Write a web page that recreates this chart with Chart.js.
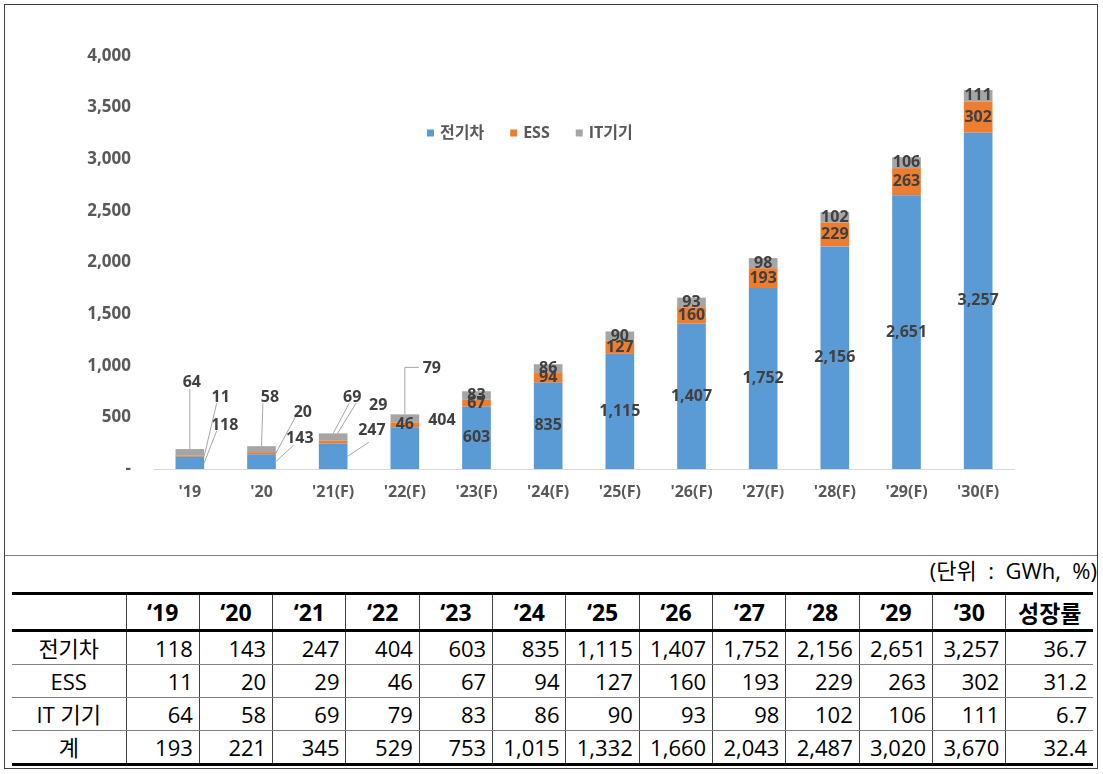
<!DOCTYPE html>
<html>
<head>
<meta charset="utf-8">
<script src="https://cdn.jsdelivr.net/npm/chart.js@4.4.1/dist/chart.umd.min.js"></script>
<style>
  html, body { margin: 0; padding: 0; background: #fff; }
  body { width: 1103px; height: 774px; position: relative; overflow: hidden;
         font-family: 'Open Sans', 'Noto Sans CJK KR', sans-serif; color: #000; }
  #frame { position: absolute; left: 4px; top: 4px; width: 1092px; height: 763px; border: 1px solid #404040; }
  #sep { position: absolute; left: 5px; top: 555px; width: 1092px; border-top: 1px solid #808080; }
  #chartBox { position: absolute; left: 5px; top: 5px; width: 1092px; height: 549px; }
  #unit { position: absolute; right: 6px; top: 554px; font-size: 22px; line-height: 32px; white-space: pre; }
  #tbl { position: absolute; left: 12px; top: 592px; width: 1081px; border-collapse: collapse; table-layout: fixed;
         font-size: 22px; }
  #tbl td, #tbl th { padding: 0 6px 0 0; border-left: 1px solid #404040; border-bottom: 1px solid #808080;
         text-align: right; white-space: nowrap; overflow: hidden; }
  #tbl tr > :first-child { border-left: none; text-align: center; padding: 0; }
  #tbl thead th { font-weight: bold; font-size: 23px; text-align: center; padding: 0; height: 34px;
         border-top: 3px solid #000; border-bottom: 3px solid #000; }
  #tbl tbody td { height: 32px; line-height: 30px; }
  #tbl tbody tr:last-child td { border-bottom: 3px solid #000; }
</style>
</head>
<body>
<div id="frame"></div>
<div id="sep"></div>
<div id="chartBox"><canvas id="myChart" width="1092" height="549"></canvas></div>
<div id="unit">(단위  :  GWh,  %)</div>
<table id="tbl"></table>
<script>
const years = ["'19", "'20", "'21(F)", "'22(F)", "'23(F)", "'24(F)", "'25(F)", "'26(F)", "'27(F)", "'28(F)", "'29(F)", "'30(F)"];
const tableYears = ["\u201819", "\u201820", "\u201821", "\u201822", "\u201823", "\u201824", "\u201825", "\u201826", "\u201827", "\u201828", "\u201829", "\u201830"];
const seriesNames = ["전기차", "ESS", "IT기기"];
const rowNames = ["전기차", "ESS", "IT 기기", "계"];
const ev = [118, 143, 247, 404, 603, 835, 1115, 1407, 1752, 2156, 2651, 3257];
const ess = [11, 20, 29, 46, 67, 94, 127, 160, 193, 229, 263, 302];
const itDevices = [64, 58, 69, 79, 83, 86, 90, 93, 98, 102, 106, 111];
const totals = [193, 221, 345, 529, 753, 1015, 1332, 1660, 2043, 2487, 3020, 3670];
const growth = [36.7, 31.2, 6.7, 32.4];
const yTicks = { min: 0, max: 4000, step: 500 };

const fontFamily = "'Open Sans', 'Noto Sans CJK KR', sans-serif";
const colors = ["#5B9BD5", "#ED7D31", "#A5A5A5"];
const fmt = (v) => Number(v).toLocaleString("en-US");

// table
const tbl = document.getElementById("tbl");
let html = "<colgroup><col style='width:114px'>";
tableYears.forEach(() => { html += "<col style='width:73.33px'>"; });
html += "<col style='width:87px'></colgroup><thead><tr><th></th>";
tableYears.forEach((y) => { html += "<th>" + y + "</th>"; });
html += "<th>성장률</th></tr></thead><tbody>";
[ev, ess, itDevices, totals].forEach((row, r) => {
  html += "<tr><td>" + rowNames[r] + "</td>";
  row.forEach((v) => { html += "<td>" + fmt(v) + "</td>"; });
  html += "<td>" + growth[r].toFixed(1) + "</td></tr>";
});
html += "</tbody>";
tbl.innerHTML = html;

// callout labels for the small bars (offsets from the anchor on the segment)
const callouts = [
  { ds: 2, i: 0, at: "top", tx: 2, ty: -67, ex: 0, ey: -60 },
  { ds: 1, i: 0, at: "side", tx: 16.5, ty: -59, ex: 12.5, ey: -53 },
  { ds: 0, i: 0, at: "side", tx: 20.5, ty: -37, ex: 12.5, ey: -32 },
  { ds: 2, i: 1, at: "top", tx: 8.4, ty: -49, ex: 1.4, ey: -43 },
  { ds: 1, i: 1, at: "side", tx: 27, ty: -41, ex: 20, ey: -37 },
  { ds: 0, i: 1, at: "side", tx: 24, ty: -23.6, ex: 18, ey: -16.6 },
  { ds: 2, i: 2, at: "top", tx: 19, ty: -36.4, ex: 16, ey: -30 },
  { ds: 1, i: 2, at: "top", tx: 45, ty: -35.5, ex: 23, ey: -37.5 },
  { ds: 0, i: 2, at: "side", tx: 24.4, ty: -26, ex: 21.4, ey: -14 },
  { ds: 2, i: 3, at: "top", tx: 27, ty: -46.4, ex: 14, ey: -47, elbow: true },
  { ds: 0, i: 3, at: "side", tx: 22.7, ty: -28, noLine: true },
];

const valueLabels = {
  id: "valueLabels",
  afterDatasetsDraw(chart) {
    const ctx = chart.ctx;
    ctx.save();
    ctx.font = "bold 16px " + fontFamily;
    ctx.textAlign = "center";
    ctx.textBaseline = "middle";
    chart.data.datasets.forEach((ds, d) => {
      const meta = chart.getDatasetMeta(d);
      meta.data.forEach((bar, i) => {
        const { x, y, base, width } = bar.getProps(["x", "y", "base", "width"], true);
        const c = callouts.find((o) => o.ds === d && o.i === i);
        const text = fmt(ds.data[i]);
        if (!c) {
          ctx.fillStyle = "#404040";
          ctx.fillText(text, x, (y + base) / 2);
          return;
        }
        const ax = c.at === "top" ? x : x + width / 2;
        const ay = c.at === "top" ? y : (y + base) / 2;
        if (!c.noLine) {
          ctx.strokeStyle = "#A6A6A6";
          ctx.lineWidth = 1;
          ctx.beginPath();
          ctx.moveTo(ax, ay);
          if (c.elbow) ctx.lineTo(ax, ay + c.ey);
          ctx.lineTo(ax + c.ex, ay + c.ey);
          ctx.stroke();
        }
        ctx.fillStyle = "#404040";
        ctx.fillText(text, ax + c.tx, ay + c.ty);
      });
    });
    ctx.restore();
  },
};

const legendAt = { dx: 273, dy: 77, box: 7, gap: 6, spacing: 26 };
const inlineLegend = {
  id: "inlineLegend",
  afterDraw(chart) {
    const ctx = chart.ctx;
    const area = chart.chartArea;
    let x = area.left + legendAt.dx;
    const y = area.top + legendAt.dy;
    ctx.save();
    ctx.font = "bold 16px " + fontFamily;
    ctx.textBaseline = "middle";
    ctx.textAlign = "left";
    chart.data.datasets.forEach((ds) => {
      ctx.fillStyle = ds.backgroundColor;
      ctx.fillRect(x, y - legendAt.box / 2, legendAt.box, legendAt.box);
      x += legendAt.box + legendAt.gap;
      ctx.fillStyle = "#595959";
      ctx.fillText(ds.label, x, y);
      x += ctx.measureText(ds.label).width + legendAt.spacing;
    });
    ctx.restore();
  },
};

const ctx = document.getElementById("myChart");
new Chart(ctx, {
  type: "bar",
  data: {
    labels: years,
    datasets: [ev, ess, itDevices].map((values, k) => ({
      label: seriesNames[k],
      data: values,
      backgroundColor: colors[k],
      borderWidth: 0,
      barPercentage: 0.4,
      categoryPercentage: 1.0,
    })),
  },
  options: {
    responsive: false,
    devicePixelRatio: 1,
    animation: false,
    layout: { padding: { top: 51, right: 83, bottom: 0, left: 0 } },
    plugins: {
      legend: { display: false },
      tooltip: { enabled: false },
    },
    scales: {
      x: {
        stacked: true,
        grid: { drawOnChartArea: false, drawTicks: false },
        border: { display: true, color: "#D9D9D9", width: 1 },
        ticks: { color: "#595959", font: { family: fontFamily, size: 16, weight: "bold" }, padding: 14, maxRotation: 0 },
        afterFit: (scale) => { scale.height = 85; },
      },
      y: {
        stacked: true,
        min: yTicks.min,
        max: yTicks.max,
        grid: { display: false },
        border: { display: false },
        ticks: {
          stepSize: yTicks.step,
          color: "#595959",
          padding: 15,
          font: { family: fontFamily, size: 17, weight: "bold" },
          callback: (v) => (v === 0 ? "-" : fmt(v)),
        },
        afterFit: (scale) => { scale.width = 149; },
      },
    },
  },
  plugins: [valueLabels, inlineLegend],
});
</script>
</body>
</html>
